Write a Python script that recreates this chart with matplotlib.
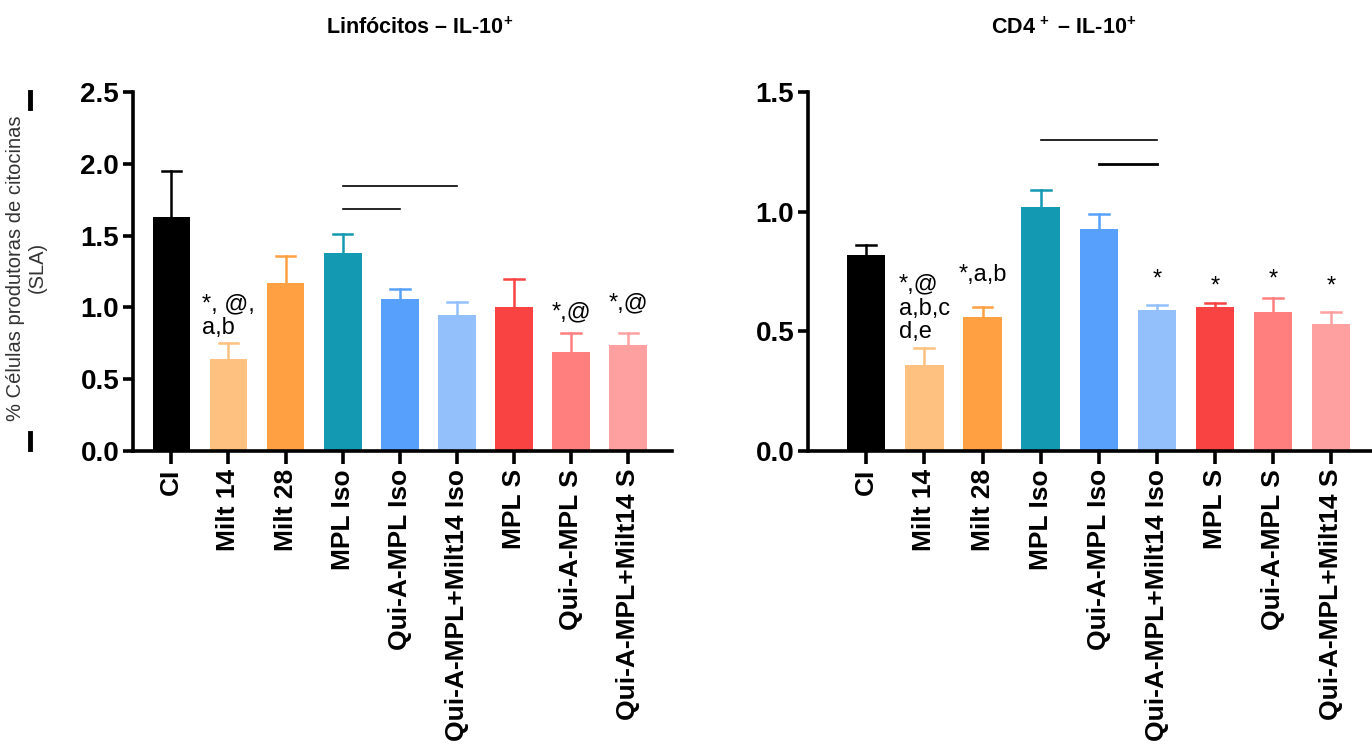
import matplotlib
matplotlib.use("Agg")
import matplotlib.pyplot as plt
from matplotlib.lines import Line2D
import numpy as np

plt.rcParams['font.family'] = ['Liberation Sans', 'DejaVu Sans']
plt.rcParams['mathtext.fontset'] = 'custom'
plt.rcParams['mathtext.bf'] = 'Liberation Sans:bold'
plt.rcParams['mathtext.rm'] = 'Liberation Sans'

grupos = ["CI", "Milt 14", "Milt 28", "MPL Iso", "Qui-A-MPL Iso",
          "Qui-A-MPL+Milt14 Iso", "MPL S", "Qui-A-MPL S", "Qui-A-MPL+Milt14 S"]
cores = ["#000000", "#FFC17F", "#FFA043", "#1399B2", "#57A1FC",
         "#93C0FA", "#F94343", "#FF7F7F", "#FFA0A0"]

# Linfócitos - IL-10+
linf_media = [1.63, 0.64, 1.17, 1.38, 1.06, 0.95, 1.00, 0.69, 0.74]
linf_topo = [1.95, 0.75, 1.36, 1.51, 1.13, 1.04, 1.20, 0.82, 0.82]
linf_anot = {1: ("*, @,\na,b", 0.78), 7: ("*,@", 0.89), 8: ("*,@", 0.95)}
linf_barras = [(3, 5, 1.845, 1.2), (3, 4, 1.685, 1.2)]

# CD4+ - IL-10+
cd4_media = [0.82, 0.36, 0.56, 1.02, 0.93, 0.59, 0.60, 0.58, 0.53]
cd4_topo = [0.86, 0.43, 0.60, 1.09, 0.99, 0.61, 0.62, 0.64, 0.58]
cd4_anot = {1: ("*,@\na,b,c\nd,e", 0.45), 2: ("*,a,b", 0.69),
            5: ("*", 0.67), 6: ("*", 0.64), 7: ("*", 0.67), 8: ("*", 0.64)}
cd4_barras = [(3, 5, 1.30, 1.2), (4, 5, 1.20, 2.0)]


def painel(ax, media, topo, anot, barras, ymax, passo, xlim, fs_anot):
    x = np.arange(len(grupos))
    ax.bar(x, media, width=0.66, color=cores, zorder=2)
    for i in x:
        # só a parte de cima do erro, com tampa
        ax.plot([i, i], [media[i], topo[i]], color=cores[i], lw=1.8, zorder=1)
        ax.plot([i - 0.17, i + 0.17], [topo[i], topo[i]], color=cores[i], lw=1.8, zorder=1)
    for i, (txt, y) in anot.items():
        ax.text(i, y, txt, ha='center', va='bottom', fontsize=fs_anot,
                linespacing=1.1, multialignment='left')
    for a, b, y, lw in barras:
        ax.plot([a, b], [y, y], color='black', lw=lw)
    ax.set_ylim(0, ymax)
    ax.set_xlim(*xlim)
    ticks = np.arange(0, ymax + 0.001, passo)
    ax.set_yticks(ticks)
    ax.set_yticklabels([f"{v:.1f}" for v in ticks], fontsize=20, fontweight='bold')
    ax.set_xticks(x)
    ax.set_xticklabels(grupos, rotation=90, fontsize=19, fontweight='bold')
    ax.spines['top'].set_visible(False)
    ax.spines['right'].set_visible(False)
    for s in ['left', 'bottom']:
        ax.spines[s].set_linewidth(2.6)
    ax.tick_params(axis='y', length=7, width=2.6, pad=3)
    ax.tick_params(axis='x', length=9, width=2.6, pad=4)


fig = plt.figure(figsize=(13.72, 7.44), dpi=100)
ax1 = fig.add_axes([0.097, 0.394, 0.393, 0.482])
ax2 = fig.add_axes([0.589, 0.394, 0.411, 0.482])

painel(ax1, linf_media, linf_topo, linf_anot, linf_barras, 2.5, 0.5, (-0.67, 8.77), 17)
painel(ax2, cd4_media, cd4_topo, cd4_anot, cd4_barras, 1.5, 0.5, (-1.0, 8.7), 17)

fig.text(0.306, 0.962, r"Linfócitos – IL-10$^{\mathbf{+}}$", ha='center', va='center',
         fontsize=15.5, fontweight='bold')
fig.text(0.775, 0.962, r"CD4$^{\mathbf{\,+}}$ – IL-10$^{\mathbf{+}}$", ha='center', va='center',
         fontsize=15.5, fontweight='bold')
fig.text(0.019, 0.64, "% Células produtoras de citocinas\n(SLA)", rotation=90,
         ha='center', va='center', fontsize=14.5, color='#333333')

# marcas verticais à esquerda
for y0, y1 in [(1 - 92 / 744, 1 - 108 / 744), (1 - 433 / 744, 1 - 449 / 744)]:
    fig.add_artist(Line2D([0.0218, 0.0218], [y0, y1], color='black', lw=3.5))

fig.savefig("out.png", dpi=100)
